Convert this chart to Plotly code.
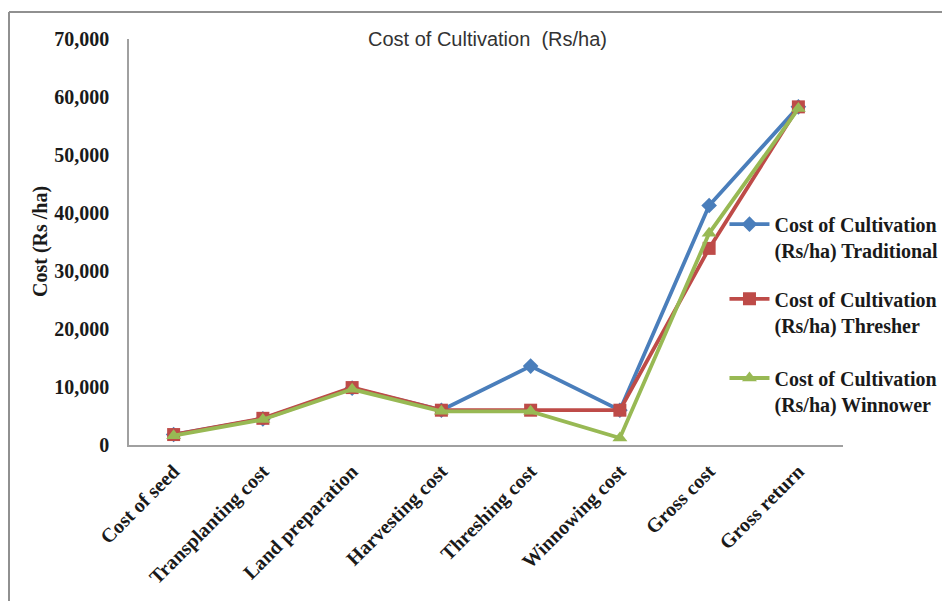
import plotly.graph_objects as go

categories = ["Cost of seed", "Transplanting cost", "Land preparation", "Harvesting cost",
              "Threshing cost", "Winnowing cost", "Gross cost", "Gross return"]
traditional = [1800, 4500, 9800, 6000, 13600, 6000, 41300, 58300]
thresher = [1800, 4600, 9900, 6000, 6000, 6000, 33900, 58300]
winnower = [1600, 4400, 9600, 5800, 5800, 1200, 36500, 58000]
series_names = ["Cost of Cultivation<br>(Rs/ha) Traditional",
                "Cost of Cultivation<br>(Rs/ha) Thresher",
                "Cost of Cultivation<br>(Rs/ha) Winnower"]
y_ticks = [0, 10000, 20000, 30000, 40000, 50000, 60000, 70000]

colors = ["#4A7EBB", "#BE4B48", "#98B954"]
symbols = ["diamond", "square", "triangle-up"]
msizes = [12, 13, 13]
serif = "Liberation Serif, Times New Roman, serif"

# plot area geometry (figure pixels)
L, T, W, H = 121, 31, 714, 406

fig = go.Figure()
for i, (vals, name) in enumerate(zip([traditional, thresher, winnower], series_names)):
    fig.add_trace(go.Scatter(
        x=categories, y=vals, name=name, mode="lines+markers",
        line=dict(color=colors[i], width=3.8),
        marker=dict(symbol=symbols[i], size=msizes[i], color=colors[i]),
        legend="legend" if i == 0 else f"legend{i+1}",
    ))

leg_common = dict(font=dict(family=serif, size=20, color="#1a1a1a", weight="bold"),
                  bgcolor="rgba(0,0,0,0)", xanchor="left", yanchor="top",
                  valign="top", itemwidth=40)
fig.update_layout(
    width=950, height=601,
    margin=dict(l=L, r=950 - L - W, t=T, b=601 - T - H, autoexpand=False),
    paper_bgcolor="white", plot_bgcolor="white",
    showlegend=True,
    legend=dict(x=0.834, y=0.592, **leg_common),
    legend2=dict(x=0.834, y=0.408, **leg_common),
    legend3=dict(x=0.834, y=0.213, **leg_common),
    xaxis=dict(type="category", tickangle=-45, showgrid=False, showline=True,
               linecolor="#A0A0A0", linewidth=1.5, ticks="", automargin=False,
               ticklabelstandoff=5,
               tickfont=dict(family=serif, size=20, color="#1a1a1a", weight="bold"),
               range=[-0.5, 7.5]),
    yaxis=dict(range=[0, 70000], tickvals=y_ticks, tickformat=",", showgrid=False,
               showline=True, linecolor="#A0A0A0", linewidth=1.5, ticks="",
               ticklabelstandoff=14, automargin=False,
               tickfont=dict(family=serif, size=20, color="#1a1a1a", weight="bold"),
               zeroline=False),
    annotations=[
        dict(text="Cost of Cultivation  (Rs/ha)", xref="paper", yref="paper",
             x=(479 - L) / W, y=1.0, xanchor="center", yanchor="middle",
             showarrow=False,
             font=dict(family="Liberation Sans, Arial, sans-serif", size=20, color="#333333")),
        dict(text="<b>Cost (Rs /ha)</b>", xref="paper", yref="paper",
             x=(32 - L) / W, y=0.5, xanchor="center", yanchor="middle",
             textangle=-90, showarrow=False,
             font=dict(family=serif, size=20, color="#1a1a1a")),
    ],
    shapes=[
        dict(type="line", xref="paper", yref="paper",
             x0=(1 - L) / W, x1=(1 - L) / W,
             y0=(T + H - 4) / H, y1=(T + H - 601) / H,
             line=dict(color="#909090", width=2)),
        dict(type="line", xref="paper", yref="paper",
             x0=(1 - L) / W, x1=(950 - L) / W,
             y0=(T + H - 4) / H, y1=(T + H - 4) / H,
             line=dict(color="#909090", width=2)),
    ],
)

fig.write_html("out.html")
